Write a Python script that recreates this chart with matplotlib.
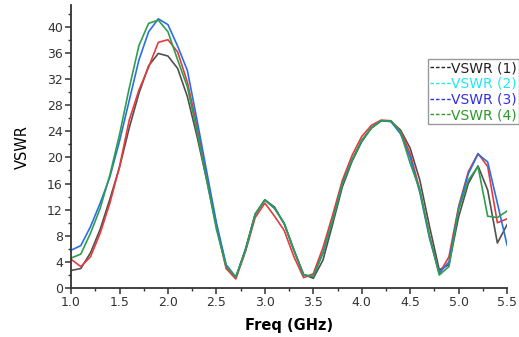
import matplotlib.pyplot as plt
from matplotlib.lines import Line2D
from matplotlib.ticker import MultipleLocator

# frequency grid (GHz)
freq = [1.0, 1.1, 1.2, 1.3, 1.4, 1.5, 1.6, 1.7, 1.8, 1.9,
        2.0, 2.1, 2.2, 2.3, 2.4, 2.5, 2.6, 2.7, 2.8, 2.9,
        3.0, 3.1, 3.2, 3.3, 3.4, 3.5, 3.6, 3.7, 3.8, 3.9,
        4.0, 4.1, 4.2, 4.3, 4.4, 4.5, 4.6, 4.7, 4.8, 4.9,
        5.0, 5.1, 5.2, 5.3, 5.4, 5.5]

vswr_1 = [2.7, 3.0, 5.4, 9.0, 13.6, 18.5, 24.5, 29.8, 34.0, 35.9,
          35.5, 33.6, 29.3, 23.2, 16.5, 9.5, 3.4, 1.6, 6.0, 11.3,
          13.5, 12.4, 9.8, 5.8, 2.1, 1.5, 4.3, 9.8, 15.5, 19.4,
          22.4, 24.5, 25.6, 25.5, 24.2, 21.4, 16.5, 9.4, 2.8, 3.6,
          10.9, 16.0, 18.7, 15.0, 6.9, 9.7]
vswr_2 = [4.4, 3.3, 4.8, 8.4, 13.0, 18.6, 25.7, 30.3, 33.8, 37.6,
          38.0, 36.1, 31.5, 24.8, 17.0, 9.5, 3.0, 1.4, 5.6, 10.8,
          13.0, 11.0, 8.8, 4.8, 1.6, 2.2, 6.2, 11.2, 16.5, 20.3,
          23.2, 24.9, 25.7, 25.6, 24.0, 20.6, 15.0, 8.0, 2.2, 4.8,
          12.5, 17.8, 20.6, 18.6, 10.0, 10.6]
vswr_3 = [5.8, 6.5, 9.4, 13.0, 17.0, 22.5, 28.7, 34.9, 39.2, 41.2,
          40.3, 37.0, 33.3, 25.7, 17.8, 10.0, 3.6, 1.7, 5.8, 11.3,
          13.5, 12.2, 9.9, 5.8, 2.0, 1.8, 5.4, 10.4, 16.0, 19.6,
          22.6, 24.5, 25.6, 25.5, 23.6, 20.0, 14.6, 7.6, 2.3, 4.0,
          12.2, 17.5, 20.5, 19.3, 13.0, 6.6]
vswr_4 = [4.6, 5.2, 8.4, 12.2, 17.3, 23.5, 30.6, 37.1, 40.5, 41.0,
          39.2, 34.9, 30.8, 23.9, 16.5, 9.0, 3.3, 1.7, 5.8, 11.3,
          13.5, 12.2, 9.9, 5.8, 2.0, 1.8, 5.4, 10.4, 16.0, 19.6,
          22.6, 24.5, 25.6, 25.6, 23.9, 19.1, 15.0, 7.9, 2.0, 3.3,
          12.0, 16.5, 18.6, 11.0, 10.8, 11.8]

legend_labels = ["VSWR (1)", "VSWR (2)", "VSWR (3)", "VSWR (4)"]
legend_colors = ["#222222", "#22e8f0", "#3030e0", "#2a9a2a"]

plt.rcParams['font.family'] = ['DejaVu Sans']

fig = plt.figure(figsize=(5.19, 3.37), dpi=100)
ax = fig.add_axes([0.137, 0.145, 0.840, 0.840])

ax.plot(freq, vswr_1, color="#505050", lw=1.2)
ax.plot(freq, vswr_2, color="#e83a3a", lw=1.2)
ax.plot(freq, vswr_3, color="#2a6fe8", lw=1.2)
ax.plot(freq, vswr_4, color="#2e9e4e", lw=1.2)

ax.set_xlim(1.0, 5.5)
ax.set_ylim(0, 43.3)
ax.xaxis.set_major_locator(MultipleLocator(0.5))
ax.xaxis.set_minor_locator(MultipleLocator(0.25))
ax.yaxis.set_major_locator(MultipleLocator(4))
ax.yaxis.set_minor_locator(MultipleLocator(2))
ax.xaxis.set_major_formatter(plt.FormatStrFormatter('%.1f'))

for s in ["top", "right"]:
    ax.spines[s].set_visible(False)
for s in ["left", "bottom"]:
    ax.spines[s].set_linewidth(1.3)
    ax.spines[s].set_color("#333333")

ax.tick_params(which="major", direction="out", length=4, width=1.1,
               color="#333333", labelsize=9, labelcolor="#333333", pad=2)
ax.tick_params(which="minor", direction="out", length=2.5, width=1.0,
               color="#333333")

ax.set_xlabel("Freq (GHz)", fontsize=10.5, fontweight="bold", labelpad=6)
ax.set_ylabel("VSWR", fontsize=10.5, labelpad=12)

handles = [Line2D([], [], color=c, lw=1.0, ls=(0, (2.5, 1.5)))
           for c in legend_colors]
leg = fig.legend(handles, legend_labels, loc="upper left",
                 bbox_to_anchor=(428 / 519, 1 - 59 / 337),
                 bbox_transform=fig.transFigure,
                 fontsize=10, labelcolor=legend_colors,
                 handlelength=1.5, handletextpad=0.0,
                 borderpad=0.15, borderaxespad=0.0, labelspacing=0.12,
                 fancybox=False, framealpha=1)
leg.get_frame().set_edgecolor("#999999")
leg.get_frame().set_linewidth(1.0)

fig.savefig("out.png", dpi=100)
